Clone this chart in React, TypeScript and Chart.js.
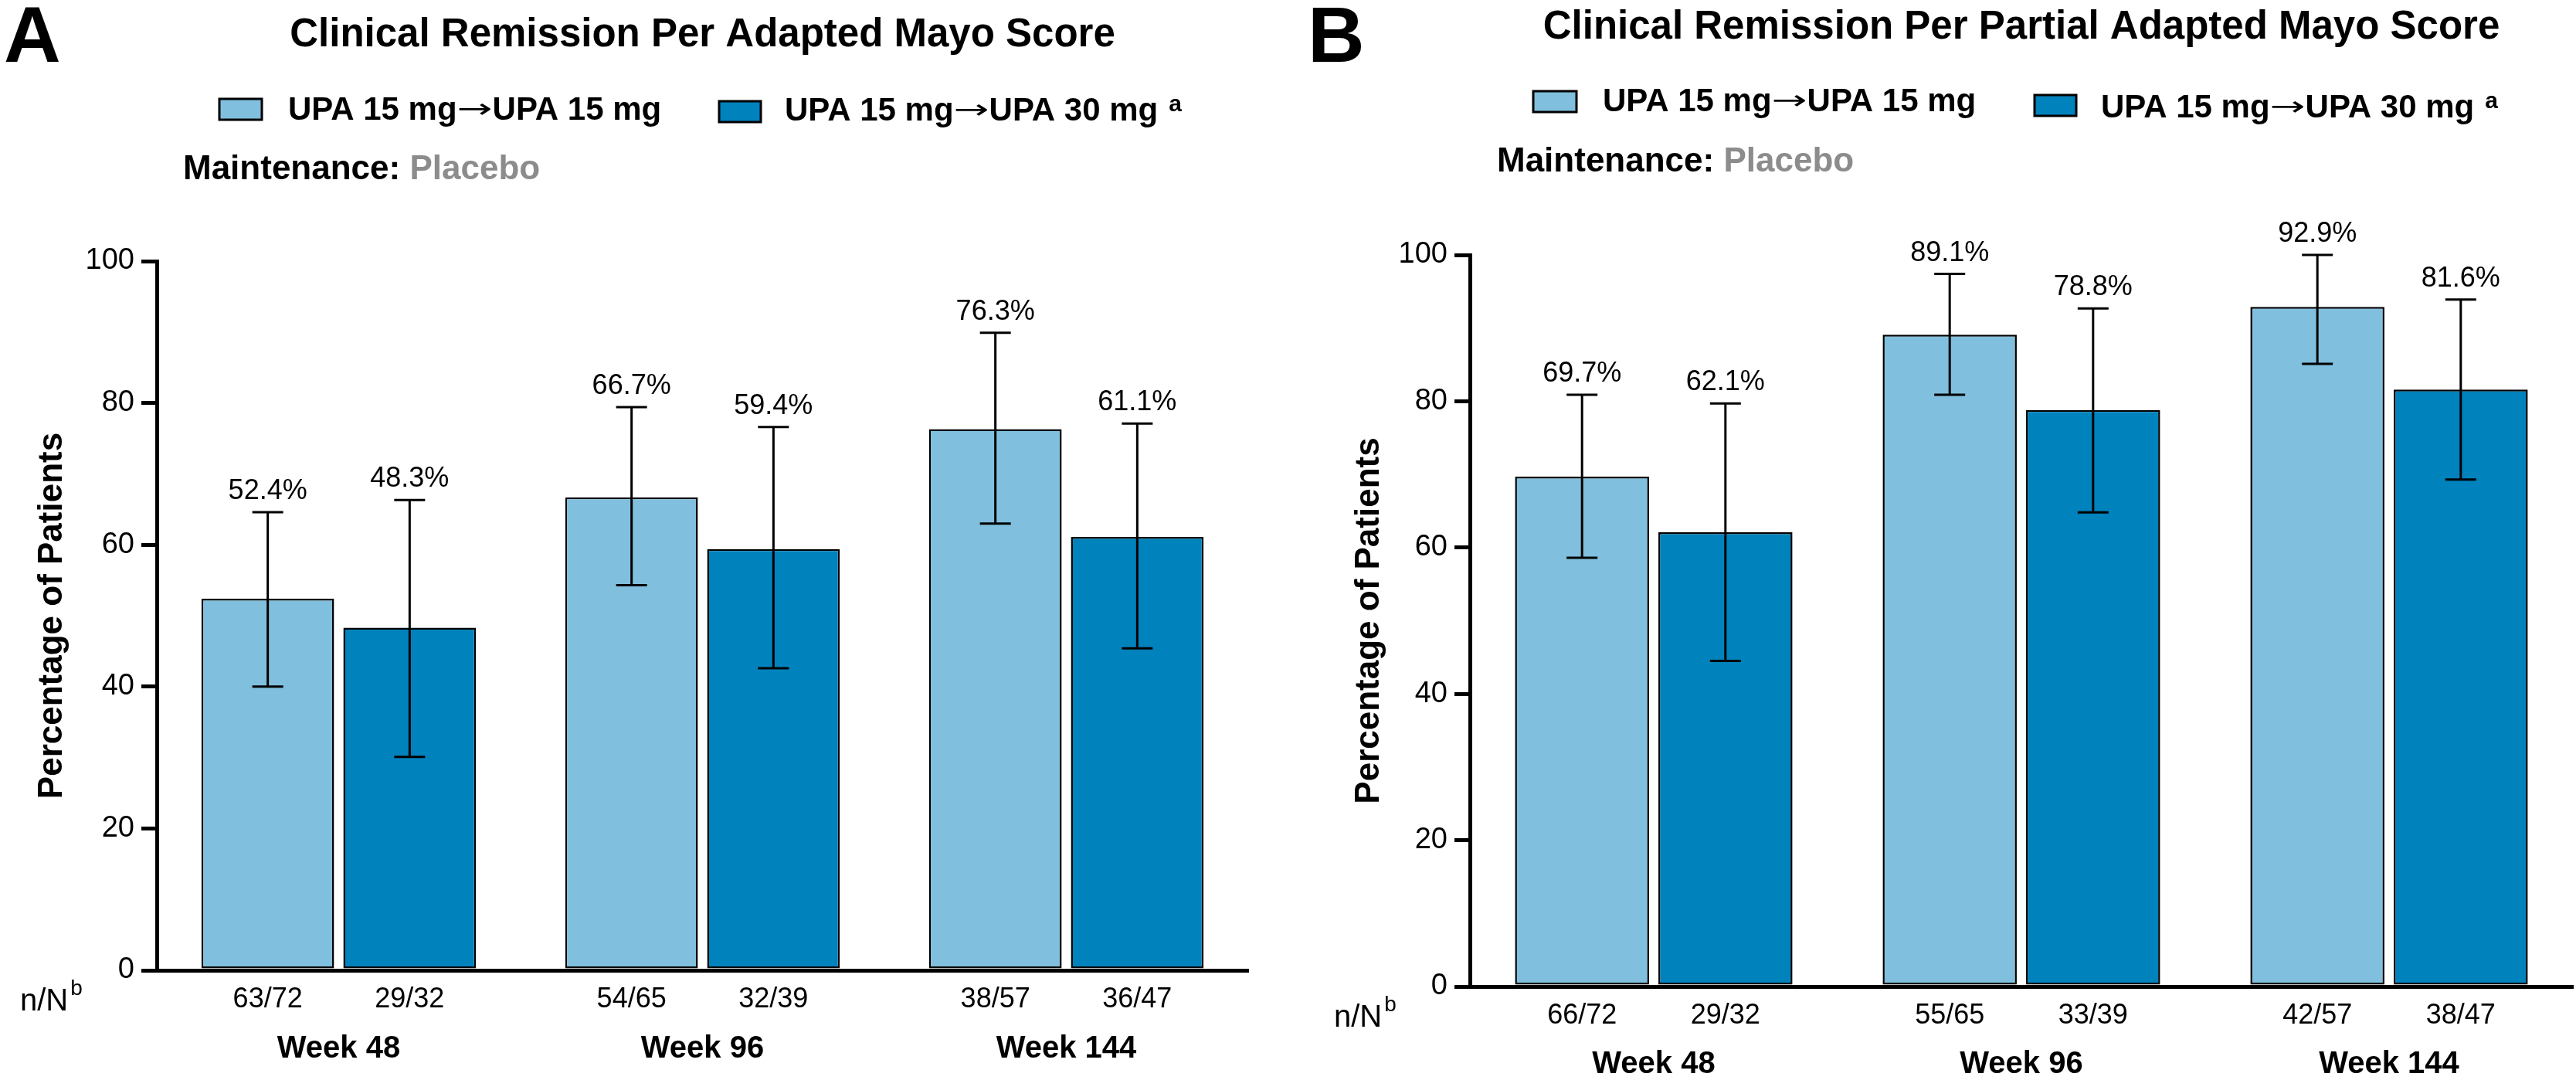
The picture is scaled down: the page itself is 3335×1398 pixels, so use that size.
import React, { useEffect, useRef } from 'react';
import { Chart, registerables } from 'chart.js';

Chart.register(...registerables);

// ---------- DATA ----------
const categories = ['Week 48', 'Week 96', 'Week 144'];
const seriesFrom = ['UPA 15 mg', 'UPA 15 mg'];
const seriesTo = ['UPA 15 mg', 'UPA 30 mg'];
const yTickStep = 20;

// Panel A: Clinical Remission Per Adapted Mayo Score
const a15Values = [52.4, 66.7, 76.3];
const a15Low = [40.0, 54.3, 63.0];
const a15High = [64.6, 79.4, 89.9];
const a15nN = ['63/72', '54/65', '38/57'];
const a30Values = [48.3, 59.4, 61.1];
const a30Low = [30.1, 42.6, 45.4];
const a30High = [66.3, 76.6, 77.1];
const a30nN = ['29/32', '32/39', '36/47'];

// Panel B: Clinical Remission Per Partial Adapted Mayo Score
const b15Values = [69.7, 89.1, 92.9];
const b15Low = [58.6, 80.9, 85.1];
const b15High = [80.9, 97.4, 100.0];
const b15nN = ['66/72', '55/65', '42/57'];
const b30Values = [62.1, 78.8, 81.6];
const b30Low = [44.5, 64.8, 69.3];
const b30High = [79.7, 92.7, 93.9];
const b30nN = ['29/32', '33/39', '38/47'];

// ---------- STYLE ----------
const FF = '"Liberation Sans", Arial, Helvetica, sans-serif';
const LIGHT = '#80BFDD';
const DARK = '#0082BD';
const GRAY = '#8C8C8C';
const ARROW = '\u2192';

type Series = {
  values: number[];
  lo: number[];
  hi: number[];
  nN: string[];
  color: string;
  from: string;
  to: string;
  sup: string;
};

type Layout = {
  canvasLeft: number;
  canvasWidth: number;
  yWidth: number;
  padTop: number;
  padRight: number;
  xHeight: number;
  tickPad: number;
  letter: string;
  letterX: number;
  letterBase: number;
  title: string;
  titleBase: number;
  legend: { boxX: number; boxY: number; boxW: number; boxH: number; textX: number; textBase: number }[];
  maintX: number;
  maintBase: number;
  yTitleX: number;
  nnX: number;
};

const H = 1398;

function buildChart(canvas: HTMLCanvasElement, series: Series[], L: Layout) {
  const errPlugin = {
    id: 'errbars',
    afterDatasetsDraw(chart: any) {
      const ctx = chart.ctx;
      const y = chart.scales.y;
      series.forEach((s, di) => {
        const meta = chart.getDatasetMeta(di);
        meta.data.forEach((bar: any, i: number) => {
          const x = bar.x;
          const yl = y.getPixelForValue(s.lo[i]);
          const yh = y.getPixelForValue(s.hi[i]);
          ctx.save();
          ctx.strokeStyle = '#000';
          ctx.lineWidth = 3;
          ctx.beginPath();
          ctx.moveTo(x, yl);
          ctx.lineTo(x, yh);
          ctx.moveTo(x - 20, yl);
          ctx.lineTo(x + 20, yl);
          ctx.moveTo(x - 20, yh);
          ctx.lineTo(x + 20, yh);
          ctx.stroke();
          ctx.fillStyle = '#000';
          ctx.font = `36px ${FF}`;
          ctx.textAlign = 'center';
          ctx.textBaseline = 'alphabetic';
          ctx.fillText(s.values[i].toFixed(1) + '%', x, yh - 17);
          ctx.textBaseline = 'middle';
          ctx.fillText(s.nN[i], x, chart.chartArea.bottom + 38);
          ctx.restore();
        });
      });
    },
  };

  const headerPlugin = {
    id: 'header',
    afterDraw(chart: any) {
      const ctx = chart.ctx;
      const ca = chart.chartArea;
      ctx.save();
      ctx.fillStyle = '#000';
      ctx.textBaseline = 'alphabetic';
      // panel letter
      ctx.font = `bold 102px ${FF}`;
      ctx.textAlign = 'left';
      ctx.fillText(L.letter, L.letterX, L.letterBase);
      // title
      ctx.font = `bold 51px ${FF}`;
      ctx.textAlign = 'center';
      ctx.fillText(L.title, (ca.left + ca.right) / 2, L.titleBase);
      // legend
      ctx.textAlign = 'left';
      series.forEach((s, i) => {
        const g = L.legend[i];
        ctx.fillStyle = s.color;
        ctx.fillRect(g.boxX, g.boxY, g.boxW, g.boxH);
        ctx.strokeStyle = '#000';
        ctx.lineWidth = 3;
        ctx.strokeRect(g.boxX, g.boxY, g.boxW, g.boxH);
        ctx.fillStyle = '#000';
        ctx.font = `bold 42px ${FF}`;
        ctx.fillText(s.from, g.textX, g.textBase);
        let x = g.textX + ctx.measureText(s.from).width;
        // thin long arrow
        ctx.save();
        ctx.font = `34px "DejaVu Sans", ${FF}`;
        const aw = ctx.measureText(ARROW).width;
        const targetW = 46;
        ctx.translate(x, g.textBase - 3);
        ctx.scale(targetW / aw, 1);
        ctx.fillText(ARROW, 0, 0);
        ctx.restore();
        x += targetW;
        ctx.font = `bold 42px ${FF}`;
        ctx.fillText(s.to, x, g.textBase);
        x += ctx.measureText(s.to).width;
        if (s.sup) {
          ctx.font = `bold 30px ${FF}`;
          ctx.fillText(s.sup, x + 14, g.textBase - 12);
        }
      });
      // maintenance
      ctx.font = `bold 44px ${FF}`;
      ctx.fillStyle = '#000';
      const m = 'Maintenance: ';
      ctx.fillText(m, L.maintX, L.maintBase);
      const mw = ctx.measureText(m).width;
      ctx.fillStyle = GRAY;
      ctx.fillText('Placebo', L.maintX + mw, L.maintBase);
      // y title
      ctx.fillStyle = '#000';
      ctx.font = `bold 44px ${FF}`;
      ctx.save();
      ctx.translate(L.yTitleX, (ca.top + ca.bottom) / 2);
      ctx.rotate(-Math.PI / 2);
      ctx.textAlign = 'center';
      ctx.textBaseline = 'middle';
      ctx.fillText('Percentage of Patients', 0, 0);
      ctx.restore();
      // n/N^b
      ctx.font = `40px ${FF}`;
      ctx.textAlign = 'left';
      ctx.textBaseline = 'middle';
      const nnY = ca.bottom + 41;
      ctx.fillText('n/N', L.nnX, nnY);
      const nw = ctx.measureText('n/N').width;
      ctx.font = `28px ${FF}`;
      ctx.fillText('b', L.nnX + nw + 3, nnY - 17);
      ctx.restore();
    },
  };

  return new Chart(canvas, {
    type: 'bar',
    data: {
      labels: categories,
      datasets: series.map((s) => ({
        label: `${s.from}${ARROW}${s.to}`,
        data: s.values,
        backgroundColor: s.color,
        borderColor: '#000',
        borderWidth: 2.5,
        borderSkipped: false,
        categoryPercentage: 0.78,
        barPercentage: 0.935,
      })),
    },
    options: {
      animation: false,
      responsive: false,
      devicePixelRatio: 1,
      layout: { padding: { left: 0, top: L.padTop, right: L.padRight, bottom: 0 } },
      plugins: { legend: { display: false }, title: { display: false }, tooltip: { enabled: false } },
      scales: {
        x: {
          grid: { display: false, drawTicks: false },
          border: { display: true, color: '#000', width: 5, z: 1 },
          ticks: {
            color: '#000',
            font: { family: FF, size: 40, weight: 'bold' },
            padding: L.tickPad,
            maxRotation: 0,
            autoSkip: false,
          },
          afterFit: (s: any) => {
            s.height = L.xHeight;
          },
        },
        y: {
          min: 0,
          max: 100,
          grid: { display: true, drawOnChartArea: false, drawTicks: true, tickLength: 20, lineWidth: 5, color: '#000' },
          border: { display: true, color: '#000', width: 5, z: 1 },
          ticks: { stepSize: yTickStep, color: '#000', font: { family: FF, size: 38 }, padding: 9 },
          afterFit: (s: any) => {
            s.width = L.yWidth;
          },
        },
      },
    } as any,
    plugins: [errPlugin, headerPlugin],
  });
}

const layoutA: Layout = {
  canvasLeft: 0,
  canvasWidth: 1660,
  yWidth: 203,
  padTop: 338,
  padRight: 44,
  xHeight: H - 1256,
  tickPad: 78,
  letter: 'A',
  letterX: 5,
  letterBase: 80,
  title: 'Clinical Remission Per Adapted Mayo Score',
  titleBase: 60,
  legend: [
    { boxX: 284, boxY: 128, boxW: 55, boxH: 27, textX: 373, textBase: 155 },
    { boxX: 931, boxY: 131, boxW: 54, boxH: 27, textX: 1016, textBase: 156 },
  ],
  maintX: 237,
  maintBase: 232,
  yTitleX: 68,
  nnX: 26,
};

const layoutB: Layout = {
  canvasLeft: 1660,
  canvasWidth: 1675,
  yWidth: 243,
  padTop: 330,
  padRight: 4,
  xHeight: H - 1277,
  tickPad: 77,
  letter: 'B',
  letterX: 33,
  letterBase: 80,
  title: 'Clinical Remission Per Partial Adapted Mayo Score',
  titleBase: 50,
  legend: [
    { boxX: 325, boxY: 118, boxW: 56, boxH: 27, textX: 415, textBase: 144 },
    { boxX: 974, boxY: 123, boxW: 54, boxH: 27, textX: 1060, textBase: 152 },
  ],
  maintX: 278,
  maintBase: 222,
  yTitleX: 113,
  nnX: 67,
};

const seriesA: Series[] = [
  { values: a15Values, lo: a15Low, hi: a15High, nN: a15nN, color: LIGHT, from: seriesFrom[0], to: seriesTo[0], sup: '' },
  { values: a30Values, lo: a30Low, hi: a30High, nN: a30nN, color: DARK, from: seriesFrom[1], to: seriesTo[1], sup: 'a' },
];
const seriesB: Series[] = [
  { values: b15Values, lo: b15Low, hi: b15High, nN: b15nN, color: LIGHT, from: seriesFrom[0], to: seriesTo[0], sup: '' },
  { values: b30Values, lo: b30Low, hi: b30High, nN: b30nN, color: DARK, from: seriesFrom[1], to: seriesTo[1], sup: 'a' },
];

export default function App() {
  const refA = useRef<HTMLCanvasElement>(null);
  const refB = useRef<HTMLCanvasElement>(null);

  useEffect(() => {
    document.body.style.margin = '0';
    document.body.style.overflow = 'hidden';
    const cA = buildChart(refA.current!, seriesA, layoutA);
    const cB = buildChart(refB.current!, seriesB, layoutB);
    return () => {
      cA.destroy();
      cB.destroy();
    };
  }, []);

  return (
    <div style={{ position: 'relative', width: 3335, height: H, background: '#fff' }}>
      <canvas
        ref={refA}
        width={layoutA.canvasWidth}
        height={H}
        style={{ position: 'absolute', left: layoutA.canvasLeft, top: 0, width: layoutA.canvasWidth, height: H }}
      />
      <canvas
        ref={refB}
        width={layoutB.canvasWidth}
        height={H}
        style={{ position: 'absolute', left: layoutB.canvasLeft, top: 0, width: layoutB.canvasWidth, height: H }}
      />
    </div>
  );
}
